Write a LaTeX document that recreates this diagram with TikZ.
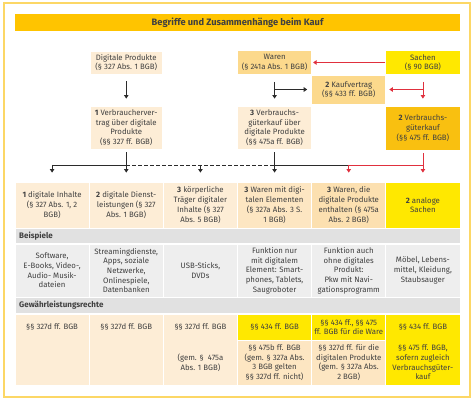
\documentclass[tikz,border=0pt]{standalone}
\usepackage{fontspec}
\setmainfont{Fira Sans}
\usetikzlibrary{arrows.meta}
\definecolor{txt}{HTML}{404040}
\definecolor{frameyel}{HTML}{FCD766}
\definecolor{titlebar}{HTML}{FFC400}
\definecolor{beige}{HTML}{FDEDD6}
\definecolor{orangeA}{HTML}{FCD98C}
\definecolor{gold}{HTML}{F9C010}
\definecolor{yel}{HTML}{FFE800}
\definecolor{lorA}{HTML}{FDE6C2}
\definecolor{lorB}{HTML}{FCE0B0}
\definecolor{grayhead}{HTML}{E1E1E1}
\definecolor{graycell}{HTML}{EEEEEE}
\definecolor{blk}{HTML}{2B2B2B}
\definecolor{redl}{HTML}{E0303E}
\begin{document}
\begin{tikzpicture}[x=1pt,y=-1pt,
  cell/.style={draw=white, line width=0.9pt, inner sep=0pt, align=center,
    font=\fontsize{7.8}{9.7}\selectfont, text=txt, minimum width=74.17pt},
  tnode/.style={inner sep=0pt, align=center, font=\fontsize{7.8}{9.7}\selectfont, text=txt},
  head/.style={inner sep=0pt, anchor=west, font=\fontsize{8}{9}\selectfont\bfseries, text=txt},
  ln/.style={draw=blk, line width=0.8pt},
  arr/.style={ln, -{Triangle[width=4.5pt,length=3.5pt]}},
  rln/.style={draw=redl, line width=0.8pt},
  rarr/.style={rln, -{Triangle[width=4.5pt,length=3.5pt]}},
]
\useasboundingbox (0,0) rectangle (474,401);
\fill[white] (0,0) rectangle (474,401);
\draw[frameyel, line width=1.2pt] (4,3) rectangle (470,397);
% title
\node[fill=titlebar, minimum width=445pt, minimum height=17pt, inner sep=0pt,
  font=\fontsize{9.3}{10}\selectfont\bfseries, text=txt] (title) at (237.5,22.5)
  {Begriffe und Zusammenhänge beim Kauf};
% upper boxes
\node[cell, fill=beige, minimum width=72pt, minimum height=23pt] (dp) at (126.25,62.5)
  {Digitale Produkte\\(§ 327 Abs. 1 BGB)};
\node[cell, fill=orangeA, minimum height=24pt] (wa) at (274.58,62.5)
  {Waren\\(§ 241a Abs. 1 BGB)};
\node[cell, fill=yel, minimum height=24pt] (sa) at (422.92,62.5)
  {Sachen\\(§ 90 BGB)};
\node[cell, fill=orangeA, minimum height=29pt] (kv) at (348.75,89.5)
  {\textbf{2} Kaufvertrag\\(§§ 433 ff. BGB)};
\node[cell, fill=beige, minimum width=72pt, minimum height=43pt] (vv) at (126.25,127.5)
  {\textbf{1} Verbraucherver-\\trag über digitale\\Produkte\\(§§ 327 ff. BGB)};
\node[cell, fill=beige, minimum height=43pt] (vdp) at (274.58,127.5)
  {\textbf{3} Verbrauchs-\\güterkauf über\\digitale Produkte\\(§§ 475a ff. BGB)};
\node[cell, fill=gold, minimum height=44pt] (vgk) at (422.92,128)
  {\textbf{2} Verbrauchs-\\güterkauf\\(§§ 475 ff. BGB)};
% row A
\node[cell, fill=beige, minimum height=46pt] (c1) at (52.08,205)
  {\textbf{1} digitale Inhalte\\(§ 327 Abs. 1, 2\\BGB)};
\node[cell, fill=beige, minimum height=46pt] (c2) at (126.25,205)
  {\textbf{2} digitale Dienst-\\leistungen (§ 327\\Abs. 1 BGB)};
\node[cell, fill=beige, minimum height=46pt] (c3) at (200.42,205)
  {\textbf{3} körperliche\\Träger digitaler\\Inhalte (§ 327\\Abs. 5 BGB)};
\node[cell, fill=lorA, minimum height=46pt] (c4) at (274.58,205)
  {\textbf{3} Waren mit digi-\\talen Elementen\\(§ 327a Abs. 3 S.\\1 BGB)};
\node[cell, fill=lorB, minimum height=46pt] (c5) at (348.75,205)
  {\textbf{3} Waren, die\\digitale Produkte\\enthalten (§ 475a\\Abs. 2 BGB)};
\node[cell, fill=yel, minimum height=46pt] (c6) at (422.92,205)
  {\textbf{2} analoge\\Sachen};
% Beispiele header
\node[cell, fill=grayhead, minimum width=445pt, minimum height=15pt] (bh) at (237.5,236) {};
\node[head] (bt) at (19,236) {Beispiele};
% examples
\node[cell, fill=graycell, minimum height=53pt] (e1) at (52.08,270.5)
  {Software,\\E-Books, Video-,\\Audio- Musik-\\dateien};
\node[cell, fill=graycell, minimum height=53pt] (e2) at (126.25,270.5)
  {Streamingdienste,\\Apps, soziale\\Netzwerke,\\Onlinespiele,\\Datenbanken};
\node[cell, fill=graycell, minimum height=53pt] (e3) at (200.42,270.5)
  {USB-Sticks,\\DVDs};
\node[cell, fill=graycell, minimum height=53pt] (e4) at (274.58,270.5)
  {Funktion nur\\mit digitalem\\Element: Smart-\\phones, Tablets,\\Saugroboter};
\node[cell, fill=graycell, minimum height=53pt] (e5) at (348.75,270.5)
  {Funktion auch\\ohne digitales\\Produkt:\\Pkw mit Navi-\\gationsprogramm};
\node[cell, fill=graycell, minimum height=53pt] (e6) at (422.92,270.5)
  {Möbel, Lebens-\\mittel, Kleidung,\\Staubsauger};
% Gewährleistungsrechte header
\node[cell, fill=grayhead, minimum width=445pt, minimum height=16pt] (gh) at (237.5,305.5) {};
\node[head] (gt) at (19,305.5) {Gewährleistungsrechte};
% rights cells
\node[cell, fill=beige, minimum height=71pt] (r1) at (52.08,349.5) {};
\node[cell, fill=beige, minimum height=71pt] (r2) at (126.25,349.5) {};
\node[cell, fill=beige, minimum height=71pt] (r3) at (200.42,349.5) {};
\node[cell, fill=yel, minimum height=26pt] (r4a) at (274.58,327)
  {§§ 434 ff. BGB};
\node[cell, fill=yel, minimum height=26pt] (r5a) at (348.75,327)
  {§§ 434 ff., §§ 475\\ff. BGB für die Ware};
\node[cell, fill=yel, minimum height=71pt] (r6) at (422.92,349.5) {};
\node[cell, fill=lorA, minimum height=45pt] (r4b) at (274.58,362.5)
  {§§ 475b ff. BGB\\(gem. § 327a Abs.\\3 BGB gelten\\§§ 327d ff. nicht)};
\node[cell, fill=lorA, minimum height=45pt] (r5b) at (348.75,362.5)
  {§§ 327d ff. für die\\digitalen Produkte\\(gem. § 327a Abs.\\2 BGB)};
\node[tnode] (t1) at (52.08,327) {§§ 327d ff. BGB};
\node[tnode] (t2) at (126.25,327) {§§ 327d ff. BGB};
\node[tnode] (t3) at (200.42,327) {§§ 327d ff. BGB};
\node[tnode] (t3b) at (200.42,362.5) {(gem. §~~475a\\Abs. 1 BGB)};
\node[tnode] (t6a) at (422.92,327) {§§ 434 ff. BGB};
\node[tnode] (t6b) at (422.92,362.5) {§§ 475 ff. BGB,\\sofern zugleich\\Verbrauchsgüter-\\kauf};
% upper connectors
\draw[arr, shorten <=7pt, shorten >=7pt] (dp.south) -- (vv.north);
\draw[arr, shorten <=7pt, shorten >=7pt] (wa.south) -- (vdp.north);
\coordinate (wj) at (wa.south |- kv.west);
\draw[arr, shorten >=4pt] (wj) -- (kv.west);
\draw[rarr, shorten >=1pt] (sa.west) -- (wa.east);
\draw[rarr, shorten <=7pt, shorten >=7pt] (sa.south) -- (vgk.north);
\coordinate (sj) at (sa.south |- kv.east);
\draw[rarr, shorten >=3pt] (sj) -- (kv.east);
% lower connectors
\coordinate (j1) at (c1.north |- 0,165);
\coordinate (j2) at (c2.north |- 0,165);
\coordinate (j3) at (c3.north |- 0,165);
\coordinate (j4) at (c4.north |- 0,165);
\coordinate (j5) at (c5.north |- 0,165);
\coordinate (j6) at (c6.north |- 0,165);
\draw[arr, shorten <=3pt, shorten >=9pt] (vv.south) -- (c2.north);
\draw[ln] (j1) -- (j2);
\draw[arr, shorten >=9pt] (j1) -- (c1.north);
\draw[ln, dash pattern=on 3.5pt off 2.5pt] (j2) -- (j4);
\draw[arr, shorten >=9pt] (j3) -- (c3.north);
\draw[arr, shorten <=3pt, shorten >=9pt] (vdp.south) -- (c4.north);
\draw[ln] (j4) -- (j5);
\draw[rarr, shorten <=3pt, shorten >=9pt] (vgk.south) -- (c6.north);
\draw[rln] (j6) -- (j5);
\draw[rarr, shorten >=9pt] (j5) -- (c5.north);
\end{tikzpicture}
\end{document}
